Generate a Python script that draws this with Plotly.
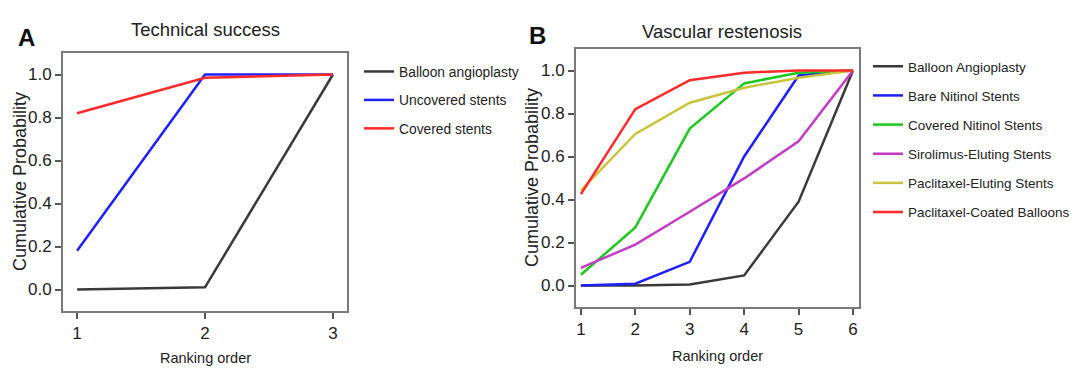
import plotly.graph_objects as go

# ---------------- data ----------------
rank_a = [1, 2, 3]
a_names = ["Balloon angioplasty", "Uncovered stents", "Covered stents"]
a_balloon = [0.0, 0.01, 1.0]
a_uncovered = [0.18, 1.0, 1.0]
a_covered = [0.82, 0.985, 1.0]

rank_b = [1, 2, 3, 4, 5, 6]
b_names = ["Balloon Angioplasty", "Bare Nitinol Stents", "Covered Nitinol Stents",
           "Sirolimus-Eluting Stents", "Paclitaxel-Eluting Stents", "Paclitaxel-Coated Balloons"]
b_balloon = [0.0, 0.0, 0.005, 0.047, 0.39, 1.0]
b_bare = [0.0, 0.008, 0.11, 0.60, 0.977, 1.0]
b_covered = [0.05, 0.27, 0.73, 0.94, 0.99, 1.0]
b_sirolimus = [0.082, 0.19, 0.343, 0.498, 0.671, 1.0]
b_paclitaxel_es = [0.443, 0.705, 0.85, 0.92, 0.966, 1.0]
b_pcb = [0.425, 0.82, 0.955, 0.99, 1.0, 1.0]

y_ticks = [0.0, 0.2, 0.4, 0.6, 0.8, 1.0]
y_ticklabels = ["0.0", "0.2", "0.4", "0.6", "0.8", "1.0"]

# ---------------- style ----------------
c_black = "#3a3a3a"
c_blue = "#1f1fff"
c_green = "#1ec81e"
c_magenta = "#c43cc4"
c_yellow = "#c8c43c"
c_red = "#ff2a2a"
W, H = 1080, 375
REG = "Liberation Sans, Arial, sans-serif"

fig = go.Figure()

a_series = [a_balloon, a_uncovered, a_covered]
a_colors = [c_black, c_blue, c_red]
for i, (name, ys, col) in enumerate(zip(a_names, a_series, a_colors)):
    fig.add_trace(go.Scatter(x=rank_a, y=ys, mode="lines", name=name,
                             line=dict(color=col, width=2.5),
                             xaxis="x", yaxis="y", legend="legend",
                             legendgroup="a%d" % i))

b_series = [b_balloon, b_bare, b_covered, b_sirolimus, b_paclitaxel_es, b_pcb]
b_colors = [c_black, c_blue, c_green, c_magenta, c_yellow, c_red]
for i, (name, ys, col) in enumerate(zip(b_names, b_series, b_colors)):
    fig.add_trace(go.Scatter(x=rank_b, y=ys, mode="lines", name=name,
                             line=dict(color=col, width=2.5),
                             xaxis="x2", yaxis="y2", legend="legend2",
                             legendgroup="b%d" % i))

axis_common = dict(showline=True, mirror=True, linecolor="#7a7a7a", linewidth=2,
                   ticks="outside", ticklen=6, tickwidth=1.5, tickcolor="#555555",
                   showgrid=False, zeroline=False,
                   tickfont=dict(family=REG, size=17, color="#222222"))

def px_x(p):
    return p / W

def px_y(p):
    return 1 - p / H

fig.update_layout(
    width=W, height=H,
    margin=dict(l=0, r=0, t=0, b=0),
    paper_bgcolor="white", plot_bgcolor="white",
    xaxis=dict(domain=[px_x(63), px_x(347)], range=[0.89, 3.11],
               tickvals=rank_a, anchor="y", **axis_common),
    yaxis=dict(domain=[px_y(311), px_y(53)], range=[-0.1, 1.1],
               tickvals=y_ticks, ticktext=y_ticklabels, anchor="x", **axis_common),
    xaxis2=dict(domain=[px_x(576), px_x(859)], range=[0.91, 6.11],
                tickvals=rank_b, anchor="y2", **axis_common),
    yaxis2=dict(domain=[px_y(307), px_y(49)], range=[-0.1, 1.1],
                tickvals=y_ticks, ticktext=y_ticklabels, anchor="x2", **axis_common),
    legend=dict(x=px_x(359), y=px_y(56), xanchor="left", yanchor="top",
                font=dict(family=REG, size=13.8, color="#222222"),
                bgcolor="rgba(0,0,0,0)", tracegroupgap=7.5),
    legend2=dict(x=px_x(868), y=px_y(51), xanchor="left", yanchor="top",
                 font=dict(family=REG, size=13.5, color="#222222"),
                 bgcolor="rgba(0,0,0,0)", tracegroupgap=8.6),
    showlegend=True,
)

annotations = [
    dict(text="Technical success", x=px_x(205), y=px_y(30), font=dict(family=REG, size=18.5, color="#222222")),
    dict(text="Vascular restenosis", x=px_x(722), y=px_y(31), font=dict(family=REG, size=18.5, color="#222222")),
    dict(text="<b>A</b>", x=px_x(26), y=px_y(38), font=dict(family=REG, size=24, color="#111111")),
    dict(text="<b>B</b>", x=px_x(537), y=px_y(35), font=dict(family=REG, size=24, color="#111111")),
    dict(text="Ranking order", x=px_x(205), y=px_y(358), font=dict(family=REG, size=14.5, color="#222222")),
    dict(text="Ranking order", x=px_x(717), y=px_y(356), font=dict(family=REG, size=14.5, color="#222222")),
    dict(text="Cumulative Probability", x=px_x(20), y=px_y(182), textangle=-90,
         font=dict(family=REG, size=18, color="#222222")),
    dict(text="Cumulative Probability", x=px_x(532), y=px_y(178), textangle=-90,
         font=dict(family=REG, size=18, color="#222222")),
]
for a in annotations:
    a.update(xref="paper", yref="paper", showarrow=False, xanchor="center", yanchor="middle")
fig.update_layout(annotations=annotations)

fig.write_html("out.html", config={"displayModeBar": False},
               post_script="document.body.style.margin='0';")
